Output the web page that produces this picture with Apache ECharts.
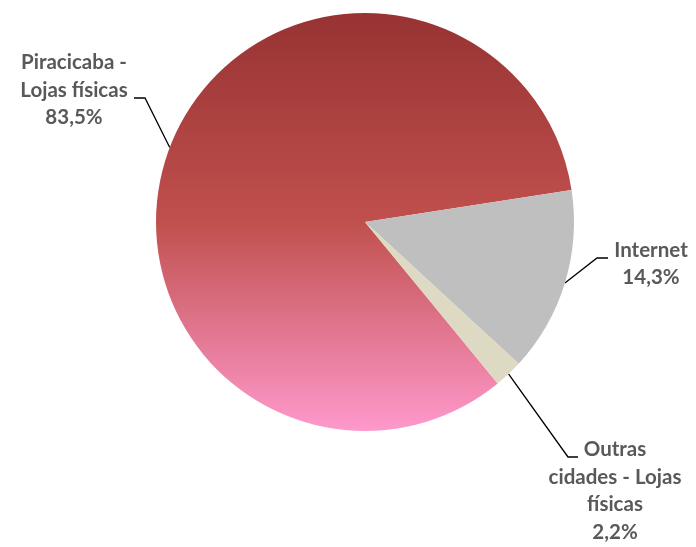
<!DOCTYPE html>
<html>
<head>
<meta charset="utf-8">
<script src="https://cdn.jsdelivr.net/npm/echarts@6/dist/echarts.min.js"></script>
<style>html,body{margin:0;padding:0;background:#fff}#c{width:696px;height:547px}</style>
</head>
<body>
<div id="c"></div>
<script>
var categories = ['Piracicaba - Lojas físicas', 'Internet', 'Outras cidades - Lojas físicas'];
var labelTexts = ['Piracicaba -\nLojas físicas\n83,5%', 'Internet\n14,3%', 'Outras\ncidades - Lojas\nfísicas\n2,2%'];
var values = [83.5, 14.3, 2.2];

var colors = [
  new echarts.graphic.LinearGradient(0, 0, 0, 1, [
    {offset: 0, color: '#973333'},
    {offset: 0.5, color: '#c0504d'},
    {offset: 1, color: '#ff99cc'}
  ]),
  '#bfbfbf',
  '#ddd9c3'
];

// label anchor layout (positions only)
var labelPos = [
  {x: 74, y: 90, line: [[145, 98], [134, 98]]},
  {x: 651, y: 264, line: [[597, 258], [608, 258]]},
  {x: 615, y: 491, line: [[568, 457], [578, 457]]}
];

var chart = echarts.init(document.getElementById('c'));
chart.setOption({
  animation: false,
  series: [{
    type: 'pie',
    center: [365, 222],
    radius: 209,
    startAngle: 309.4,
    clockwise: true,
    data: categories.map(function (c, i) {
      return {name: c, value: values[i], itemStyle: {color: colors[i]}};
    }),
    label: {
      show: true,
      formatter: function (p) { return labelTexts[p.dataIndex]; },
      fontFamily: 'Lato',
      fontWeight: 'bold',
      fontSize: 20.5,
      lineHeight: 27.5,
      color: '#595959',
      align: 'center',
      overflow: 'none',
      width: 200
    },
    labelLine: {
      show: true,
      lineStyle: {color: '#000', width: 1.3}
    },
    labelLayout: function (params) {
      var lp = labelPos[params.dataIndex];
      var start = params.labelLinePoints ? params.labelLinePoints[0] : lp.line[0];
      return {
        x: lp.x,
        y: lp.y,
        align: 'center',
        verticalAlign: 'middle',
        labelLinePoints: [start, lp.line[0], lp.line[1]]
      };
    },
    emphasis: {disabled: true}
  }]
});
</script>
</body>
</html>
